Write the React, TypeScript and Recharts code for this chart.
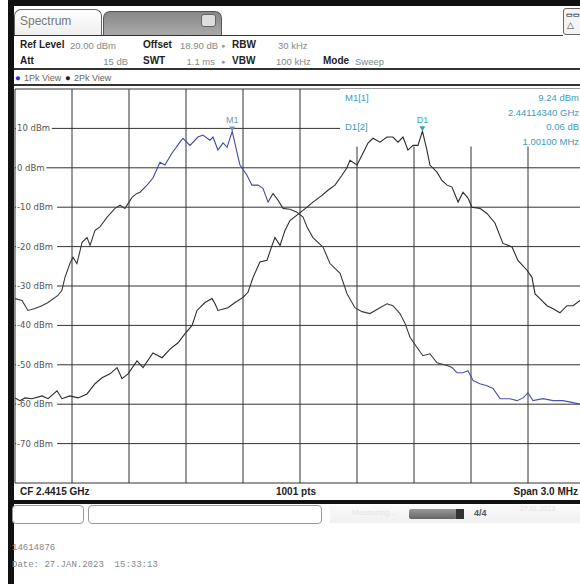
import React from "react"
import {
  LineChart,
  Line,
  XAxis,
  YAxis,
  CartesianGrid,
  ReferenceArea,
  ReferenceDot,
} from "recharts"

// frequency in MHz, level in dBm
const freq1 = [
  2440.0, 2440.037, 2440.068, 2440.105, 2440.142, 2440.174, 2440.226, 2440.247, 2440.263, 2440.289,
  2440.305, 2440.326, 2440.353, 2440.379, 2440.395, 2440.421, 2440.447, 2440.484, 2440.526, 2440.553,
  2440.579, 2440.616, 2440.642, 2440.658, 2440.695, 2440.726, 2440.763, 2440.789, 2440.826, 2440.868,
  2440.884, 2440.921, 2440.963, 2440.989, 2441.026, 2441.042, 2441.068, 2441.095, 2441.116, 2441.1434,
  2441.168, 2441.184, 2441.221, 2441.247, 2441.279, 2441.305, 2441.332, 2441.358, 2441.384, 2441.411,
  2441.447, 2441.484, 2441.516, 2441.537, 2441.568, 2441.621, 2441.658, 2441.711, 2441.747, 2441.789,
  2441.826, 2441.868, 2441.921, 2441.958, 2441.989, 2442.026, 2442.053, 2442.079, 2442.116, 2442.147,
  2442.184, 2442.221, 2442.274, 2442.3, 2442.326, 2442.358, 2442.384, 2442.411, 2442.447, 2442.484,
  2442.516, 2442.553, 2442.605, 2442.642, 2442.674, 2442.7, 2442.726, 2442.779, 2442.832, 2442.884,
  2442.937, 2442.974, 2443.0,
]
const level1 = [
  -33.2, -33.7, -36.2, -35.7, -35.0, -34.2, -32.4, -31.1, -27.8, -24.3,
  -22.7, -24.3, -18.9, -17.7, -19.7, -15.9, -15.0, -12.6, -10.3, -9.5,
  -10.3, -7.5, -6.5, -6.2, -4.4, -2.6, 1.4, 0.7, 3.7, 6.5,
  7.5, 5.7, 7.8, 8.3, 7.0, 7.8, 4.5, 6.3, 5.2, 9.24,
  4.0, 0.7, -1.9, -4.4, -4.4, -5.2, -8.7, -6.5, -8.2, -10.3,
  -10.5, -11.3, -12.5, -15.0, -17.7, -20.1, -24.3, -26.8, -31.9, -35.5,
  -36.5, -37.0, -35.5, -34.5, -35.0, -37.0, -39.5, -43.0, -45.6, -47.7,
  -47.2, -49.5, -50.2, -50.7, -52.0, -52.0, -51.5, -54.0, -54.8, -55.3,
  -56.0, -58.6, -58.6, -59.1, -58.4, -57.1, -59.1, -58.6, -59.1, -59.1,
  -59.6, -60.0, -60.2,
]

const freq2 = [
  2440.0, 2440.026, 2440.053, 2440.089, 2440.142, 2440.174, 2440.221, 2440.247, 2440.289, 2440.332,
  2440.379, 2440.421, 2440.458, 2440.5, 2440.537, 2440.563, 2440.595, 2440.642, 2440.674, 2440.726,
  2440.774, 2440.816, 2440.858, 2440.895, 2440.932, 2440.958, 2441.0, 2441.037, 2441.053, 2441.068,
  2441.121, 2441.158, 2441.2, 2441.226, 2441.253, 2441.289, 2441.326, 2441.353, 2441.368, 2441.395,
  2441.421, 2441.447, 2441.484, 2441.537, 2441.568, 2441.616, 2441.647, 2441.684, 2441.721, 2441.747,
  2441.763, 2441.8, 2441.826, 2441.858, 2441.884, 2441.921, 2441.958, 2441.989, 2442.016, 2442.042,
  2442.068, 2442.095, 2442.121, 2442.1444, 2442.168, 2442.184, 2442.221, 2442.247, 2442.274, 2442.3,
  2442.332, 2442.358, 2442.384, 2442.405, 2442.447, 2442.484, 2442.526, 2442.568, 2442.616, 2442.647,
  2442.695, 2442.721, 2442.737, 2442.763, 2442.8, 2442.832, 2442.868, 2442.905, 2442.937, 2442.974,
  2443.0,
]
const level2 = [
  -58.4, -59.1, -58.4, -58.6, -57.9, -58.6, -56.6, -58.6, -57.9, -58.4,
  -57.4, -54.8, -53.3, -52.3, -50.7, -53.5, -52.3, -49.0, -50.7, -47.0,
  -48.2, -46.0, -44.4, -42.1, -40.0, -36.2, -34.2, -33.2, -34.5, -36.2,
  -35.5, -34.2, -32.9, -31.6, -27.8, -23.9, -23.5, -19.7, -17.7, -19.7,
  -15.9, -13.4, -12.0, -10.0, -8.7, -7.0, -5.7, -4.4, -1.9, 0.0,
  1.9, 0.7, 3.2, 6.3, 7.5, 6.5, 7.8, 7.8, 6.5, 7.8,
  4.5, 5.7, 5.7, 9.3, 4.5, 0.7, -1.1, -3.2, -4.4, -4.9,
  -8.7, -6.2, -7.7, -10.0, -10.3, -11.6, -14.0, -19.2, -20.1, -23.5,
  -26.0, -27.8, -32.0, -33.2, -35.0, -35.8, -36.8, -35.0, -35.0, -33.7,
  -33.0,
]

const freqTicks = [
  2440, 2440.3, 2440.6, 2440.9, 2441.2, 2441.5, 2441.8, 2442.1, 2442.4, 2442.7, 2443,
]
const levelTicks = [20, 10, 0, -10, -20, -30, -40, -50, -60, -70, -80]

const m1 = { f: 2441.1434, level: 9.24 }
const d1 = { f: 2442.1444, level: 9.3 }

const trace1 = freq1.map((f, i) => ({ f, level: level1[i] }))
const trace2 = freq2.map((f, i) => ({ f, level: level2[i] }))

const sans = "'Liberation Sans', Arial, sans-serif"
const mono = "'Liberation Mono', 'DejaVu Sans Mono', monospace"
const teal = "#3a9cc4"

function LevelTick(props: any) {
  const { y, payload } = props
  const v = payload.value
  if (v === 20 || v === -80) return <g />
  const label = `${v} dBm`
  const w = label.length * 5.3 + 4
  return (
    <g>
      <rect x={11} y={y - 2} width={w} height={4} fill="#fff" />
      <text x={12} y={y} dy={3} fontSize={8.5} fill="#555" fontFamily="'DejaVu Sans', sans-serif">
        {label}
      </text>
    </g>
  )
}

function Marker(props: any) {
  const { cx, cy, name, color } = props
  return (
    <g>
      <path d={`M${cx - 3},${cy - 5} L${cx + 3},${cy - 5} L${cx},${cy} Z`} fill={color} />
      <text x={cx} y={cy - 8} textAnchor="middle" fontSize={9} fill={color} fontFamily={sans}>
        {name}
      </text>
    </g>
  )
}

function Txt({ x, y, children, bold, color, size, right, font }: any) {
  return (
    <div
      style={{
        position: "absolute",
        left: right ? undefined : x,
        right: right ? 580 - x : undefined,
        top: y,
        fontSize: size || 10,
        fontWeight: bold ? 700 : 400,
        fontFamily: font || sans,
        color: color || "#222",
        whiteSpace: "pre",
        lineHeight: 1,
      }}
    >
      {children}
    </div>
  )
}

export default function App() {
  return (
    <div
      style={{
        position: "fixed",
        left: 0,
        top: 0,
        width: 580,
        height: 584,
        overflow: "hidden",
        background: "#fff",
        fontFamily: sans,
      }}
    >
      {/* frame */}
      <div style={{ position: "absolute", left: 8, top: 0, width: 580, height: 6, background: "#111" }} />
      <div style={{ position: "absolute", left: 8, top: 0, width: 6, height: 584, background: "#111" }} />

      {/* tabs */}
      <div
        style={{
          position: "absolute", left: 14, top: 9, width: 86, height: 26,
          border: "1px solid #666", borderBottom: "none", borderRadius: "7px 7px 0 0",
          background: "linear-gradient(#fff, #eee)",
        }}
      />
      <Txt x={20} y={15} size={12} color="#777">Spectrum</Txt>
      <div
        style={{
          position: "absolute", left: 103, top: 11, width: 117, height: 24,
          border: "1px solid #555", borderBottom: "none", borderRadius: "7px 7px 0 0",
          background: "linear-gradient(#888, #aaa)",
        }}
      />
      <div
        style={{
          position: "absolute", left: 201, top: 14, width: 13, height: 11,
          border: "1px solid #666", borderRadius: 3, background: "#ddd",
        }}
      />
      <div
        style={{
          position: "absolute", left: 563, top: 8, width: 20, height: 25,
          border: "1px solid #666", borderRadius: 3, background: "#f4f4f4",
        }}
      />
      <Txt x={566} y={11} size={7} bold>▭▭</Txt>
      <Txt x={567} y={21} size={9} color="#444">△</Txt>
      <div style={{ position: "absolute", left: 14, top: 35, width: 549, height: 1, background: "#333" }} />

      {/* settings */}
      <Txt x={20} y={40} bold>Ref Level</Txt>
      <Txt x={70} y={41} size={9.5} color="#888">20.00 dBm</Txt>
      <Txt x={143} y={40} bold>Offset</Txt>
      <Txt x={180} y={41} size={9.5} color="#888">18.90 dB</Txt>
      <Txt x={221} y={42} size={7} color="#999">●</Txt>
      <Txt x={232} y={40} bold>RBW</Txt>
      <Txt x={278} y={41} size={9.5} color="#888">30 kHz</Txt>
      <Txt x={20} y={56} bold>Att</Txt>
      <Txt x={128} y={57} size={9.5} color="#888" right>15 dB</Txt>
      <Txt x={143} y={56} bold>SWT</Txt>
      <Txt x={215} y={57} size={9.5} color="#888" right>1.1 ms</Txt>
      <Txt x={221} y={58} size={7} color="#999">●</Txt>
      <Txt x={232} y={56} bold>VBW</Txt>
      <Txt x={276} y={57} size={9.5} color="#888">100 kHz</Txt>
      <Txt x={323} y={56} bold>Mode</Txt>
      <Txt x={355} y={57} size={9.5} color="#888">Sweep</Txt>
      <div style={{ position: "absolute", left: 14, top: 68, width: 566, height: 2, background: "#333" }} />
      <Txt x={15} y={73} size={9.5} color="#2a2ae0">●</Txt>
      <Txt x={24} y={74} size={9} color="#666">1Pk View</Txt>
      <Txt x={65} y={73} size={9.5} color="#222">●</Txt>
      <Txt x={74} y={74} size={9} color="#666">2Pk View</Txt>
      <div style={{ position: "absolute", left: 14, top: 84, width: 566, height: 2, background: "#333" }} />

      <div style={{ position: "absolute", left: 5, top: 79 }}>
        <LineChart
          width={590}
          height={414}
          margin={{ top: 10, right: 10, bottom: 9, left: 9 }}
        >
          <defs>
            <linearGradient id="trace1Stroke" x1="0" y1="0" x2="1" y2="0">
              <stop offset="0" stopColor="#3a3a3a" />
              <stop offset="0.22" stopColor="#3a3a3a" />
              <stop offset="0.23" stopColor="#3d47a6" />
              <stop offset="0.44" stopColor="#3d47a6" />
              <stop offset="0.45" stopColor="#3a3a3a" />
              <stop offset="0.76" stopColor="#3a3a3a" />
              <stop offset="0.77" stopColor="#4a52a8" />
              <stop offset="1" stopColor="#4a52a8" />
            </linearGradient>
          </defs>
          <CartesianGrid stroke="#333" strokeWidth={1} />
          <XAxis
            type="number"
            dataKey="f"
            domain={[2440, 2443]}
            ticks={freqTicks}
            interval={0}
            height={1}
            tick={() => <g />}
            axisLine={false}
            tickLine={false}
          />
          <YAxis
            type="number"
            domain={[-80, 20]}
            ticks={levelTicks}
            interval={0}
            width={1}
            axisLine={false}
            tickLine={false}
            tick={(p: any) => <LevelTick {...p} />}
          />
          <ReferenceArea x1={2441.711} x2={2443} y1={5.4} y2={20} fill="#fff" fillOpacity={1} stroke="none" />
          <Line
            data={trace2}
            dataKey="level"
            type="linear"
            stroke="#2b2b2b"
            strokeWidth={1.1}
            dot={false}
            isAnimationActive={false}
          />
          <Line
            data={trace1}
            dataKey="level"
            type="linear"
            stroke="url(#trace1Stroke)"
            strokeWidth={1.1}
            dot={false}
            isAnimationActive={false}
          />
          <ReferenceDot
            x={m1.f}
            y={m1.level}
            shape={(p: any) => <Marker {...p} name="M1" color="#6f95b8" />}
          />
          <ReferenceDot
            x={d1.f}
            y={d1.level}
            shape={(p: any) => <Marker {...p} name="D1" color="#3aa6a6" />}
          />
        </LineChart>
      </div>

      {/* marker table */}
      <Txt x={345} y={93} size={9.5} color={teal}>M1[1]</Txt>
      <Txt x={579} y={93} size={9.5} color={teal} right>9.24 dBm</Txt>
      <Txt x={579} y={108} size={9.5} color={teal} right>2.44114340 GHz</Txt>
      <Txt x={345} y={122} size={9.5} color={teal}>D1[2]</Txt>
      <Txt x={579} y={122} size={9.5} color={teal} right>0.06 dB</Txt>
      <Txt x={579} y={137} size={9.5} color={teal} right>1.00100 MHz</Txt>

      {/* footer of the diagram */}
      <Txt x={20} y={487} bold>CF 2.4415 GHz</Txt>
      <Txt x={276} y={487} bold>1001 pts</Txt>
      <Txt x={578} y={487} bold right>Span 3.0 MHz</Txt>
      <div style={{ position: "absolute", left: 8, top: 500, width: 572, height: 4, background: "#111" }} />

      {/* status bar */}
      <div
        style={{
          position: "absolute", left: 12, top: 505, width: 70, height: 17,
          border: "1px solid #999", borderRadius: 4, background: "#fff",
        }}
      />
      <div
        style={{
          position: "absolute", left: 88, top: 505, width: 232, height: 17,
          border: "1px solid #999", borderRadius: 4, background: "#fff",
        }}
      />
      <div
        style={{
          position: "absolute", left: 330, top: 505, width: 250, height: 18,
          background: "linear-gradient(#fafafa, #f0f0f0)",
        }}
      />
      <Txt x={352} y={509} size={8} color="#e4e4e4">Measuring...</Txt>
      <div
        style={{
          position: "absolute", left: 409, top: 509, width: 48, height: 10,
          background: "linear-gradient(#999, #666)", borderRadius: 2,
        }}
      />
      <div style={{ position: "absolute", left: 456, top: 509, width: 8, height: 10, background: "#333" }} />
      <Txt x={474} y={509} size={9} bold color="#555">4/4</Txt>
      <Txt x={520} y={505} size={7} color="#e0e0e0">27.01.2023</Txt>

      <Txt x={12} y={544} size={9} color="#888" font={mono}>14614876</Txt>
      <Txt x={12} y={561} size={9} color="#888" font={mono}>Date: 27.JAN.2023  15:33:13</Txt>
    </div>
  )
}
